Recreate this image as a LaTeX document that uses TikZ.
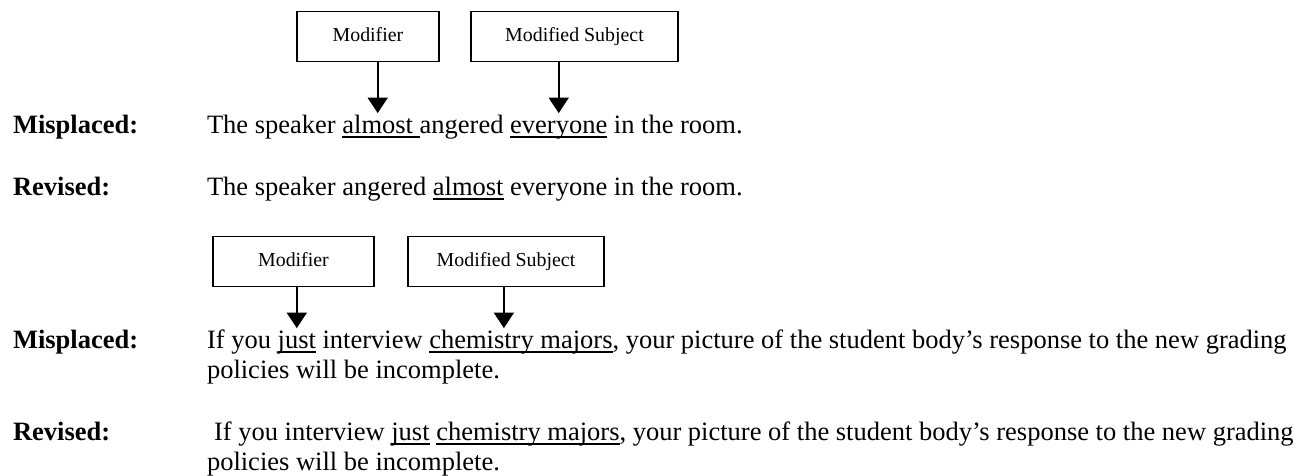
\documentclass[tikz,border=0pt]{standalone}
\usepackage{fontspec}
\setmainfont{Liberation Serif}
\usepackage{tikz}
\usetikzlibrary{positioning,arrows.meta}
\newlength{\pxu}\setlength{\pxu}{0.4528pt}

\begin{document}
\begin{tikzpicture}[x=0.4528pt,y=-0.4528pt,
  txt/.style={inner sep=0pt,outer sep=0pt,anchor=base west,text height=9pt,text depth=2.5pt,font=\fontsize{12}{14}\selectfont},
  lbl/.style={txt,font=\fontsize{12}{14}\selectfont\bfseries},
  modbox/.style={draw,line width=0.9pt,minimum height=50\pxu,inner sep=0pt,text height=6.5pt,text depth=2pt,font=\fontsize{9}{11}\selectfont},
  arr/.style={line width=0.9pt,-{Triangle[length=7pt,width=9pt]}},
  ul/.style={line width=0.8pt}]
  \useasboundingbox (0,0) rectangle (1309,475);
  % first example
  \node[modbox,minimum width=142\pxu] (mod1) at (368,36.5) {Modifier};
  \node[modbox,minimum width=207\pxu] (subj1) at (574.5,36.5) {Modified Subject};
  \node[lbl] (mis1) at (13,133) {Misplaced:};
  \node[txt] (s1a) at (207,133) {The speaker};
  \node[txt,base right=3pt of s1a] (s1b) {almost};
  \node[txt,base right=3pt of s1b] (s1c) {angered};
  \node[txt,base right=3pt of s1c] (s1d) {everyone};
  \node[txt,base right=3pt of s1d] (s1e) {in the room.};
  \draw[ul] ([yshift=-1.8pt]s1b.base west) -- ([yshift=-1.8pt,xshift=3pt]s1b.base east);
  \draw[ul] ([yshift=-1.8pt]s1d.base west) -- ([yshift=-1.8pt]s1d.base east);
  \draw[arr] (mod1.south -| s1b.north) -- (s1b.north);
  \draw[arr] (subj1.south -| s1d.north) -- (s1d.north);
  \node[lbl] (rev1) at (13,195) {Revised:};
  \node[txt] (r1a) at (207,195) {The speaker angered};
  \node[txt,base right=3pt of r1a] (r1b) {almost};
  \node[txt,base right=3pt of r1b] (r1c) {everyone in the room.};
  \draw[ul] ([yshift=-1.8pt]r1b.base west) -- ([yshift=-1.8pt]r1b.base east);
  % second example
  \node[modbox,minimum width=161\pxu] (mod2) at (293.5,261.5) {Modifier};
  \node[modbox,minimum width=196\pxu] (subj2) at (506,261.5) {Modified Subject};
  \node[lbl] (mis2) at (13,348) {Misplaced:};
  \node[txt] (s2a) at (207,348) {If you};
  \node[txt,base right=3pt of s2a] (s2b) {just};
  \node[txt,base right=3pt of s2b] (s2c) {interview};
  \node[txt,base right=3pt of s2c] (s2d) {chemistry majors};
  \node[txt,base right=0pt of s2d] (s2e) {, your picture of the student body’s response to the new grading};
  \node[txt] (s2f) at (207,378) {policies will be incomplete.};
  \draw[ul] ([yshift=-1.8pt]s2b.base west) -- ([yshift=-1.8pt]s2b.base east);
  \draw[ul] ([yshift=-1.8pt]s2d.base west) -- ([yshift=-1.8pt]s2d.base east);
  \coordinate (tip2) at ([xshift=-17\pxu]s2d.north);
  \draw[arr] (mod2.south -| s2b.north) -- (s2b.north);
  \draw[arr] (subj2.south -| tip2) -- (tip2);
  \node[lbl] (rev2) at (13,440) {Revised:};
  \node[txt] (r2a) at (214,440) {If you interview};
  \node[txt,base right=3pt of r2a] (r2b) {just};
  \node[txt,base right=3pt of r2b] (r2c) {chemistry majors};
  \node[txt,base right=0pt of r2c] (r2d) {, your picture of the student body’s response to the new grading};
  \node[txt] (r2e) at (207,470) {policies will be incomplete.};
  \draw[ul] ([yshift=-1.8pt]r2b.base west) -- ([yshift=-1.8pt]r2b.base east);
  \draw[ul] ([yshift=-1.8pt]r2c.base west) -- ([yshift=-1.8pt]r2c.base east);
\end{tikzpicture}
\end{document}
